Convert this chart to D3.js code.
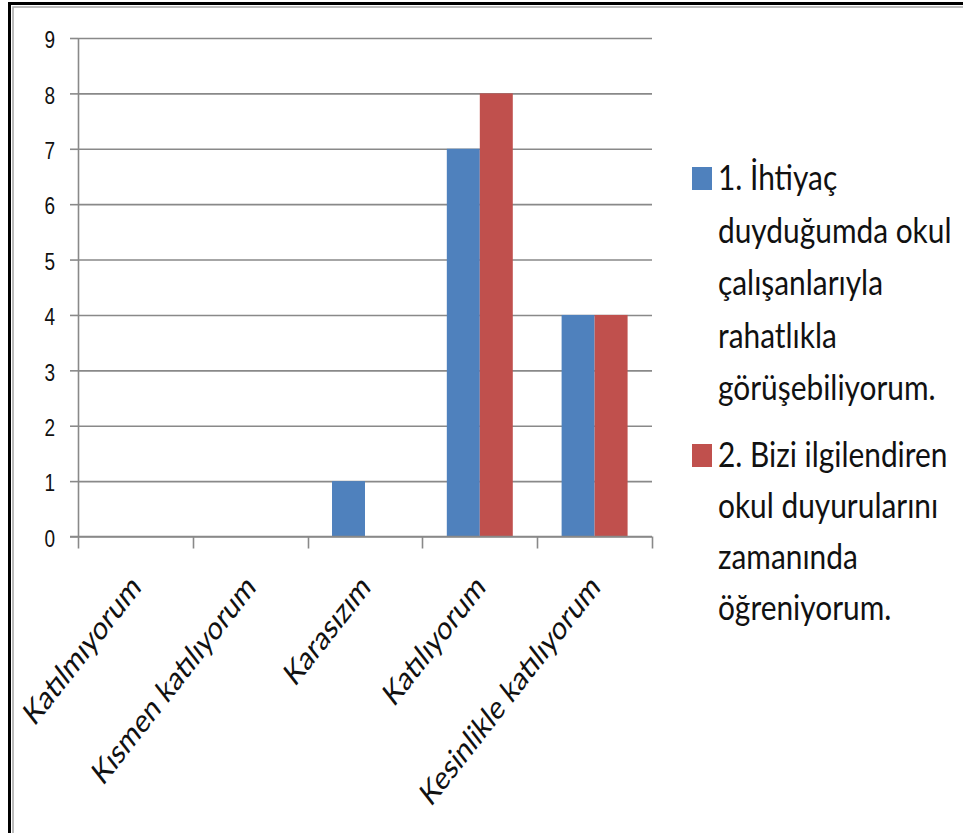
<!DOCTYPE html>
<html>
<head>
<meta charset="utf-8">
<script src="https://cdn.jsdelivr.net/npm/d3@7"></script>
<style>
  body { margin: 0; background: #fff; }
  svg { display: block; font-family: Lato, "Open Sans", sans-serif; }
</style>
</head>
<body>
<svg width="963" height="833"></svg>
<script>
// chart data
var categories = ["Katılmıyorum", "Kısmen katılıyorum", "Karasızım", "Katılıyorum", "Kesinlikle katılıyorum"];
var seriesNames = ["s1", "s2"];
var series1 = [0, 0, 1, 7, 4];
var series2 = [0, 0, 0, 8, 4];
var yTicks = [0, 1, 2, 3, 4, 5, 6, 7, 8, 9];
var legendLines = [
  ["1. İhtiyaç", "duyduğumda okul", "çalışanlarıyla", "rahatlıkla", "görüşebiliyorum."],
  ["2. Bizi ilgilendiren", "okul duyurularını", "zamanında", "öğreniyorum."]
];
var colors = ["#4f81bd", "#c0504d"];

var svg = d3.select("svg");

// picture is stretched vertically, so text gets a y-scale
var stretch = 1.28;

// frame (runs off the right and bottom edge like the original)
svg.append("rect").attr("x", 9.5).attr("y", 3.5).attr("width", 1000).attr("height", 1000)
  .attr("fill", "none").attr("stroke", "#000").attr("stroke-width", 3);
svg.append("rect").attr("x", 13).attr("y", 7).attr("width", 1000).attr("height", 1000)
  .attr("fill", "none").attr("stroke", "#a6a6a6").attr("stroke-width", 1.5);

var x = d3.scaleBand().domain(categories).range([78, 652]);
var x1 = d3.scaleBand().domain(seriesNames).range([0, x.bandwidth()]).paddingOuter(0.74);
var y = d3.scaleLinear().domain([0, 9]).range([536.5, 38]);

// gridlines
var grid = svg.append("g")
  .attr("transform", "translate(78,0)")
  .call(d3.axisRight(y).tickValues(yTicks).tickSize(574).tickFormat(""));
grid.select(".domain").remove();
grid.selectAll("line").attr("stroke", "#898989").attr("stroke-width", 1.6);

// y axis
var yAxis = svg.append("g")
  .attr("transform", "translate(78,0)")
  .call(d3.axisLeft(y).tickValues(yTicks).tickSize(8).tickSizeOuter(0).tickPadding(15));
yAxis.select(".domain").attr("stroke", "#898989").attr("stroke-width", 1.6);
yAxis.selectAll("line").attr("stroke", "#898989").attr("stroke-width", 1.6);
yAxis.selectAll("text")
  .attr("font-size", 19)
  .attr("fill", "#111")
  .attr("dy", "0.4em")
  .attr("transform", "scale(1," + stretch + ")");

// bars
var rows = categories.map(function(c, i) { return {cat: c, vals: [series1[i], series2[i]]}; });
var groups = svg.append("g").selectAll("g")
  .data(rows).enter().append("g")
  .attr("transform", function(d) { return "translate(" + x(d.cat) + ",0)"; });
groups.selectAll("rect")
  .data(function(d) { return d.vals.map(function(v, j) { return {key: seriesNames[j], v: v, j: j}; }); })
  .enter().append("rect")
  .filter(function(d) { return d.v > 0; })
  .attr("x", function(d) { return x1(d.key); })
  .attr("width", x1.bandwidth())
  .attr("y", function(d) { return y(d.v); })
  .attr("height", function(d) { return y(0) - y(d.v); })
  .attr("fill", function(d) { return colors[d.j]; });

// x axis: base line + ticks on the category boundaries
var xAxis = svg.append("g");
xAxis.append("line")
  .attr("x1", 70).attr("x2", 652)
  .attr("y1", y(0)).attr("y2", y(0))
  .attr("stroke", "#898989").attr("stroke-width", 1.6);
var bounds = categories.map(function(c) { return x(c); }).concat([x.range()[1]]);
xAxis.selectAll("line.tk")
  .data(bounds).enter().append("line")
  .attr("class", "tk")
  .attr("x1", function(d) { return Math.round(d) + 0.5; })
  .attr("x2", function(d) { return Math.round(d) + 0.5; })
  .attr("y1", y(0)).attr("y2", y(0) + 12)
  .attr("stroke", "#898989").attr("stroke-width", 1.6);

// rotated category labels
xAxis.selectAll("text")
  .data(categories).enter().append("text")
  .attr("text-anchor", "end")
  .attr("font-size", 26)
  .attr("fill", "#111")
  .attr("transform", function(d) {
    return "translate(" + (x(d) + x.bandwidth() / 2 + 7) + ",589) scale(1," + stretch + ") rotate(-45)";
  })
  .text(function(d) { return d; });

// legend
var legendTop = [190, 467];
var lineStep = [52.5, 51];
legendLines.forEach(function(lines, i) {
  var lg = svg.append("g");
  lg.append("rect")
    .attr("x", 692).attr("y", legendTop[i] - 23)
    .attr("width", 20).attr("height", 23)
    .attr("fill", colors[i]);
  lg.selectAll("text")
    .data(lines).enter().append("text")
    .attr("font-size", 29)
    .attr("fill", "#111")
    .attr("transform", function(d, k) {
      return "translate(718," + (legendTop[i] + k * lineStep[i]) + ") scale(1.03,1.22)";
    })
    .text(function(d) { return d; });
});
</script>
</body>
</html>
